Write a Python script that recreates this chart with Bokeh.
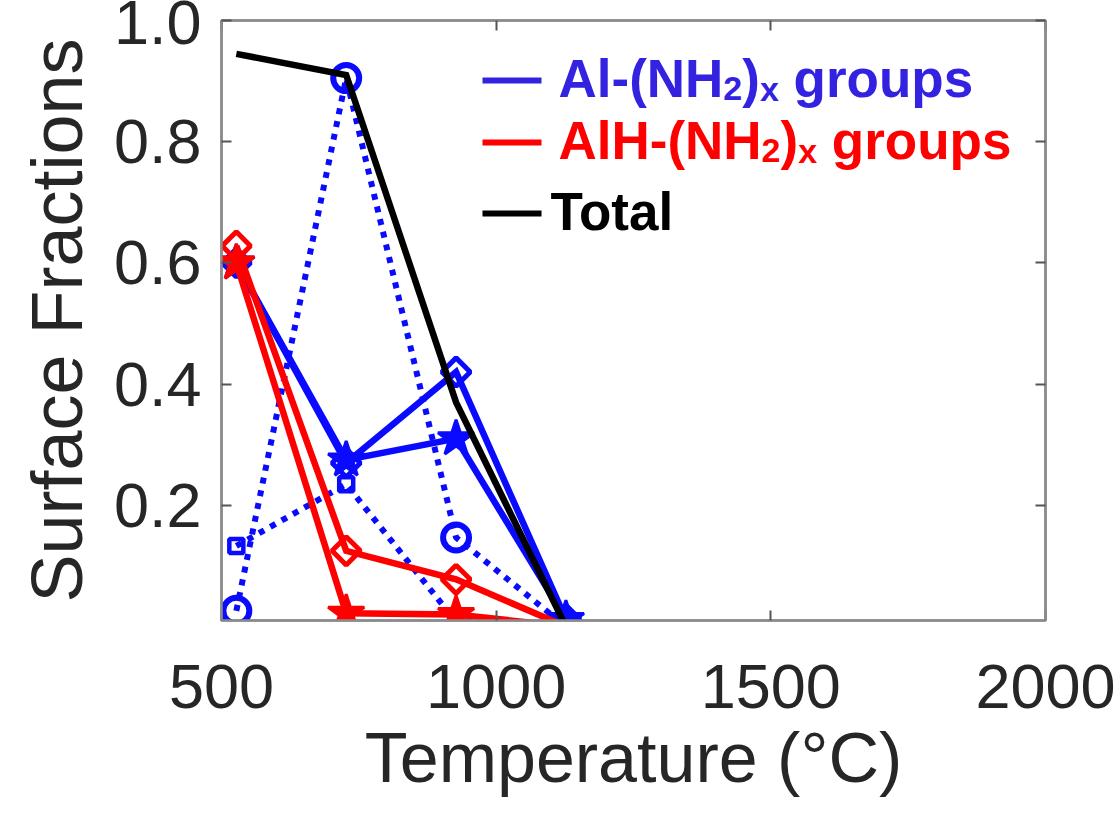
import math
from bokeh.plotting import figure
from bokeh.models import Range1d, FixedTicker, LinearAxis, Label, ColumnDataSource, NumeralTickFormatter
from bokeh.embed import file_html
from bokeh.resources import INLINE

# ---------------- data ----------------
temps = [527, 727, 927, 1127]
al_diamond = [0.60, 0.27, 0.42, 0.012]
al_star = [0.60, 0.275, 0.31, 0.012]
al_circle = [0.026, 0.905, 0.147, 0.0]
al_square = [0.133, 0.235, 0.008, 0.0]
alh_diamond = [0.628, 0.125, 0.078, 0.0]
alh_star = [0.60, 0.022, 0.02, 0.0]
total = [0.945, 0.91, 0.37, 0.0]

x_ticks = [500, 1000, 1500, 2000]
y_ticks = [0.2, 0.4, 0.6, 0.8, 1.0]
X_MIN, X_MAX = 500, 2000
Y_MIN, Y_MAX = 0.01, 1.0

# ---------------- layout ----------------
FRAME_L, FRAME_R, FRAME_T, FRAME_B = 221, 1045, 20, 620
W, H = 1118, 813

BLUE = "#0a0aff"
RED = "#ff0000"
BLACK = "#000000"
LEG_BLUE = "#3322e0"
AX_GRAY = "#8c8c8c"
TXT = "#262626"

p = figure(width=W, height=H, output_backend="svg", toolbar_location=None,
           x_range=Range1d(X_MIN, X_MAX), y_range=Range1d(Y_MIN, Y_MAX),
           min_border_left=FRAME_L, min_border_right=W - FRAME_R,
           min_border_top=FRAME_T, min_border_bottom=H - FRAME_B,
           x_axis_label="Temperature (°C)", y_axis_label="Surface Fractions")
p.grid.visible = False
p.outline_line_color = AX_GRAY
p.outline_line_width = 2.5
p.background_fill_color = "white"
p.border_fill_color = "white"


def style_axis(ax, ticks, fmt=None):
    ax.ticker = FixedTicker(ticks=ticks)
    ax.minor_tick_line_color = None
    ax.major_tick_in = 10
    ax.major_tick_out = 0
    ax.major_tick_line_color = "#555555"
    ax.major_tick_line_width = 2
    ax.axis_line_color = AX_GRAY
    ax.axis_line_width = 2.5
    ax.major_label_text_font = "Liberation Sans"
    ax.major_label_text_font_size = "63px"
    ax.major_label_text_color = TXT
    ax.axis_label_text_font = "Liberation Sans"
    ax.axis_label_text_font_style = "normal"
    ax.axis_label_text_color = TXT
    if fmt:
        ax.formatter = NumeralTickFormatter(format=fmt)


style_axis(p.xaxis[0], x_ticks)
style_axis(p.yaxis[0], y_ticks, "0.0")
p.xaxis[0].major_label_standoff = 44
p.xaxis[0].axis_label_standoff = 8
p.xaxis[0].axis_label_text_font_size = "70px"
p.yaxis[0].major_label_standoff = 20
p.yaxis[0].axis_label_standoff = 14
p.yaxis[0].axis_label_text_font_size = "72px"

top_ax = LinearAxis()
right_ax = LinearAxis()
for ax, t in ((top_ax, x_ticks), (right_ax, y_ticks)):
    style_axis(ax, t)
    ax.major_label_text_font_size = "0px"
    ax.major_label_standoff = 0
    ax.major_label_text_alpha = 0
p.add_layout(top_ax, "above")
p.add_layout(right_ax, "right")


def visible(xs, ys):
    keep = [(x, y) for x, y in zip(xs, ys) if y > 0]
    return dict(x=[k[0] for k in keep], y=[k[1] for k in keep])


def series(ys, color, marker, dashed=False, lw=6.5):
    if dashed:
        p.line(temps, ys, line_color=color, line_width=6, line_dash="6 7")
    else:
        p.line(temps, ys, line_color=color, line_width=lw, line_join="miter")
    src = ColumnDataSource(visible(temps, ys))
    if marker == "diamond":
        p.scatter("x", "y", source=src, marker="square", angle=math.pi / 4, size=20,
                  line_color=color, line_width=5, fill_color=None)
    elif marker == "star":
        p.scatter("x", "y", source=src, marker="star", size=38,
                  line_color=color, line_width=3, fill_color=color)
    elif marker == "circle":
        p.scatter("x", "y", source=src, marker="circle", size=26,
                  line_color=color, line_width=6, fill_color=None)
    elif marker == "square":
        p.scatter("x", "y", source=src, marker="square", size=14,
                  line_color=color, line_width=4.5, fill_color=None)


# blue series
series(al_diamond, BLUE, "diamond")
series(al_star, BLUE, "star")
series(al_circle, BLUE, "circle", dashed=True)
series(al_square, BLUE, "square", dashed=True)
# red series
series(alh_diamond, RED, "diamond")
series(alh_star, RED, "star")
# total
p.line(temps, total, line_color=BLACK, line_width=6.5, line_join="miter")

# ---------------- legend (manual, with subscripts) ----------------
def dx(px):
    return X_MIN + (px - FRAME_L) * (X_MAX - X_MIN) / (FRAME_R - FRAME_L)


def dy(py):
    return Y_MAX - (py - FRAME_T) * (Y_MAX - Y_MIN) / (FRAME_B - FRAME_T)


ARIAL_BOLD = {"A": .722, "l": .278, "-": .333, "(": .333, "N": .722, "H": .722, ")": .333,
              " ": .278, "g": .611, "r": .389, "o": .611, "u": .611, "p": .611, "s": .556,
              "2": .556, "x": .556, "T": .611, "t": .333, "a": .556}
FS, SFS, SUB_DROP = 53, 34, 10
TEXT_SHIFT = 20  # empirical correction of label baseline placement


def text_width(s, size):
    return sum(ARIAL_BOLD.get(c, .6) for c in s) * size


legend_rows = [
    (LEG_BLUE, 80, 98, 558, [("Al-(NH", False), ("2", True), (")", False), ("x", True), (" groups", False)]),
    (RED, 142, 160, 558, [("AlH-(NH", False), ("2", True), (")", False), ("x", True), (" groups", False)]),
    (BLACK, 213, 231, 550, [("Total", False)]),
]
for color, line_y, base_y, x0, pieces in legend_rows:
    p.segment(x0=[dx(482)], y0=[dy(line_y)], x1=[dx(541)], y1=[dy(line_y)],
              line_color=color, line_width=6)
    xpos = x0
    for txt, sub in pieces:
        size = SFS if sub else FS
        lead = len(txt) - len(txt.lstrip(" "))
        xpos += text_width(" " * lead, size)
        core = txt.strip(" ")
        yb = base_y - TEXT_SHIFT + (SUB_DROP if sub else 0)
        p.add_layout(Label(x=dx(xpos), y=dy(yb), text=core, text_font="Liberation Sans",
                           text_font_style="bold", text_font_size=f"{size}px",
                           text_color=color, text_baseline="alphabetic", text_align="left"))
        xpos += text_width(core, size)

open("out.html", "w").write(file_html(p, INLINE))
